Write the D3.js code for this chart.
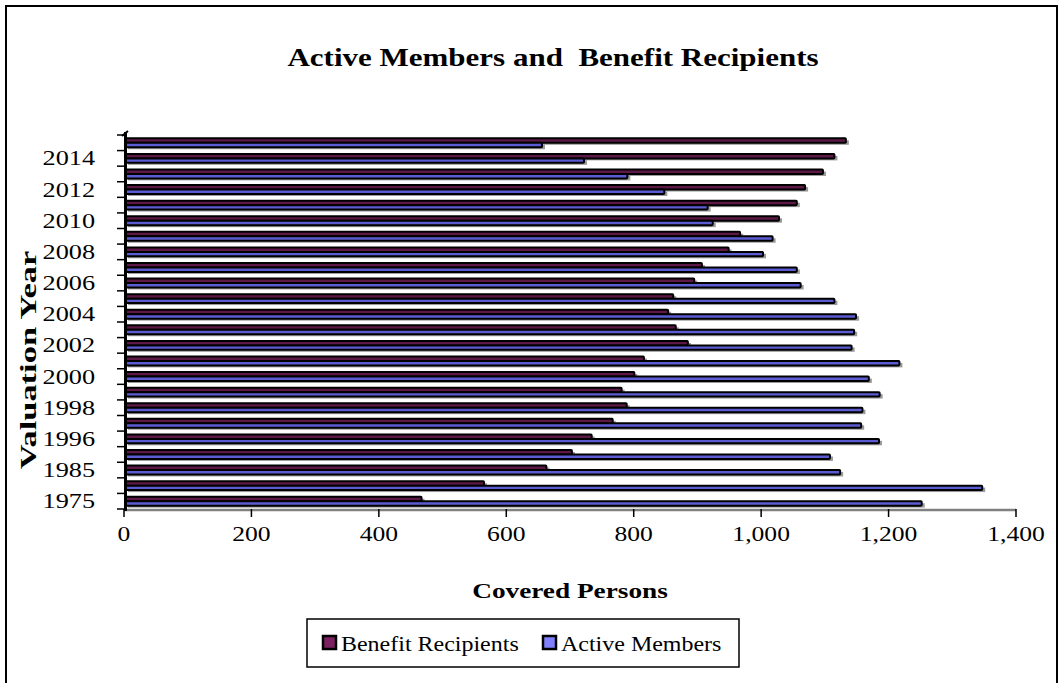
<!DOCTYPE html>
<html>
<head>
<meta charset="utf-8">
<script src="https://cdn.jsdelivr.net/npm/d3@7"></script>
<style>
    body { margin: 0; background: #fff; }
    svg text { font-family: "Liberation Serif", "Times New Roman", serif; fill: #000; white-space: pre; }
</style>
</head>
<body>
<div id="chart"></div>
<script>
// Chart data (bottom to top)
const years = ["1975", "1980", "1985", "1990", "1996", "1997", "1998", "1999", "2000", "2001",
    "2002", "2003", "2004", "2005", "2006", "2007", "2008", "2009", "2010", "2011",
    "2012", "2013", "2014", "2015"];
const benefitRecipients = [467, 565, 663, 703, 734, 767, 789, 781, 801, 816,
    885, 866, 854, 862, 895, 907, 949, 967, 1028, 1056,
    1069, 1097, 1115, 1133];
const activeMembers = [1252, 1347, 1124, 1108, 1185, 1157, 1159, 1186, 1169, 1217,
    1142, 1146, 1149, 1115, 1062, 1056, 1003, 1018, 924, 916,
    848, 790, 722, 656];
const xTicks = [0, 200, 400, 600, 800, 1000, 1200, 1400];
const seriesNames = ["Benefit Recipients", "Active Members"];

const W = 1063, H = 683;
const barColors = ["#5e1846", "#5c5cd2"];
const legendColors = ["#7b2060", "#8080ff"];

const svg = d3.select('#chart').append('svg')
    .attr('width', W)
    .attr('height', H);

// outer frame
svg.append('rect')
    .attr('x', 6).attr('y', 6)
    .attr('width', 1051).attr('height', 700)
    .attr('fill', 'none')
    .attr('stroke', '#000')
    .attr('stroke-width', 2);

const x = d3.scaleLinear().domain([0, 1400]).range([124, 1016]);
const y = d3.scaleBand().domain(years.slice().reverse()).range([135, 509]);
const bw = y.bandwidth();
const barH = bw / 3.5;
const barOff = barH * 0.75;

// text stretched horizontally like the original
function place(sel, tx, ty, sx) {
    sel.attr('transform', `translate(${tx},${ty}) scale(${sx},1)`);
}

// bars
const rows = years.map((yr, i) => ({ year: yr, values: [benefitRecipients[i], activeMembers[i]] }));
const bars = svg.append('g');
rows.forEach(r => {
    r.values.forEach((v, s) => {
        const by = y(r.year) + barOff + s * barH;
        bars.append('rect')
            .attr('x', x(0) + 4).attr('y', by + 2)
            .attr('width', x(v) - x(0) - 1).attr('height', barH)
            .attr('fill', '#9a9a9a');
    });
    r.values.forEach((v, s) => {
        const by = y(r.year) + barOff + s * barH;
        bars.append('rect')
            .attr('x', x(0) + 2).attr('y', by)
            .attr('width', x(v) - x(0) - 2).attr('height', barH)
            .attr('rx', 0.8)
            .attr('fill', barColors[s])
            .attr('stroke', '#000')
            .attr('stroke-width', 2);
    });
});

// x axis
svg.append('line')
    .attr('x1', x(0)).attr('x2', x(1400))
    .attr('y1', 510).attr('y2', 510)
    .attr('stroke', '#808080').attr('stroke-width', 2.5);
svg.append('g').selectAll('line')
    .data(xTicks)
    .enter().append('line')
    .attr('x1', d => x(d)).attr('x2', d => x(d))
    .attr('y1', 509).attr('y2', 517)
    .attr('stroke', '#000').attr('stroke-width', 1.5);
svg.append('g').selectAll('text')
    .data(xTicks)
    .enter().append('text')
    .attr('text-anchor', 'middle')
    .style('font-size', '21px')
    .text(d => d3.format(',')(d))
    .each(function(d) { place(d3.select(this), x(d), 541, 1.22); });

// y axis
svg.append('line')
    .attr('x1', 125.5).attr('x2', 125.5)
    .attr('y1', 132).attr('y2', 511)
    .attr('stroke', '#000').attr('stroke-width', 3);
svg.append('line')
    .attr('x1', 122).attr('x2', 128)
    .attr('y1', 136).attr('y2', 131)
    .attr('stroke', '#000').attr('stroke-width', 2);
const bounds = years.map(yr => y(yr) + bw).concat([y(years[years.length - 1])]);
svg.append('g').selectAll('line')
    .data(bounds)
    .enter().append('line')
    .attr('x1', 117).attr('x2', 125)
    .attr('y1', d => d).attr('y2', d => d)
    .attr('stroke', '#000').attr('stroke-width', 1.5);
svg.append('g').selectAll('text')
    .data(years.filter((yr, i) => i % 2 === 0))
    .enter().append('text')
    .attr('text-anchor', 'end')
    .style('font-size', '21px')
    .text(d => d)
    .each(function(d) { place(d3.select(this), 95, y(d) + bw / 2 + 7, 1.25); });

// titles
svg.append('text')
    .attr('text-anchor', 'middle')
    .style('font-size', '25px').style('font-weight', 'bold')
    .text('Active Members and  Benefit Recipients')
    .call(place, 553, 66, 1.24);
svg.append('text')
    .attr('text-anchor', 'middle')
    .style('font-size', '22px').style('font-weight', 'bold')
    .text('Covered Persons')
    .call(place, 570, 598, 1.24);
svg.append('text')
    .attr('text-anchor', 'middle')
    .style('font-size', '23px').style('font-weight', 'bold')
    .text('Valuation Year')
    .attr('transform', 'translate(36,360) rotate(-90) scale(1.5,1)');

// legend
const legend = svg.append('g');
legend.append('rect')
    .attr('x', 307).attr('y', 619)
    .attr('width', 432).attr('height', 48)
    .attr('fill', '#fff')
    .attr('stroke', '#000').attr('stroke-width', 1.5);
const legendX = [323, 543];
seriesNames.forEach((name, i) => {
    legend.append('rect')
        .attr('x', legendX[i]).attr('y', 636)
        .attr('width', 13).attr('height', 13)
        .attr('fill', legendColors[i])
        .attr('stroke', '#000').attr('stroke-width', 2.5);
    legend.append('text')
        .style('font-size', '22px')
        .text(name)
        .call(place, legendX[i] + 18, 651, 1.09);
});
</script>
</body>
</html>
